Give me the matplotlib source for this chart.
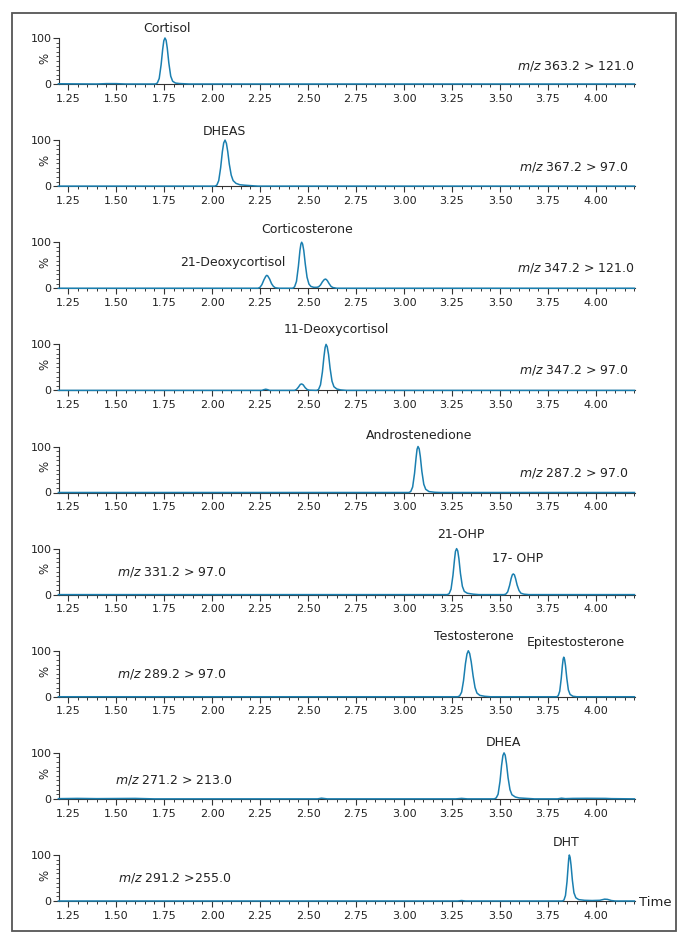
import matplotlib
matplotlib.use("Agg")
import matplotlib.pyplot as plt
from matplotlib.ticker import MultipleLocator, FixedLocator
from matplotlib.patches import Rectangle

# ---------------- data ----------------
transitions = ["363.2 > 121.0", "367.2 > 97.0", "347.2 > 121.0", "347.2 > 97.0",
               "287.2 > 97.0", "331.2 > 97.0", "289.2 > 97.0", "271.2 > 213.0",
               "291.2 >255.0"]

compounds = [["Cortisol"], ["DHEAS"], ["Corticosterone", "21-Deoxycortisol"],
             ["11-Deoxycortisol"], ["Androstenedione"], ["21-OHP", "17- OHP"],
             ["Testosterone", "Epitestosterone"], ["DHEA"], ["DHT"]]

# retention time (min) and relative intensity (%) for each trace
t1 = [1.20, 1.40, 1.45, 1.50, 1.55, 1.705, 1.715, 1.725, 1.735, 1.743, 1.749, 1.755, 1.761,
      1.767, 1.775, 1.785, 1.795, 1.81, 1.83, 1.88, 4.20]
y1 = [0.5, 0, 0.8, 0.8, 0, 0, 2, 12, 42, 75, 94, 100, 95, 78, 46, 17, 6, 2, 1, 0, 0]

t2 = [1.20, 2.015, 2.025, 2.035, 2.045, 2.054, 2.061, 2.068, 2.075, 2.082, 2.090, 2.100,
      2.110, 2.125, 2.145, 2.17, 2.22, 2.24, 4.20]
y2 = [0, 0, 2, 12, 40, 75, 94, 100, 93, 75, 48, 24, 12, 6, 3, 2, 0.5, 0, 0]

t3 = [1.20, 2.24, 2.25, 2.26, 2.27, 2.28, 2.285, 2.29, 2.30, 2.31, 2.32, 2.33, 2.35,
      2.42, 2.43, 2.44, 2.45, 2.458, 2.463, 2.467, 2.472, 2.478, 2.486, 2.495, 2.505,
      2.515, 2.53, 2.545, 2.555, 2.565, 2.575, 2.585, 2.592, 2.60, 2.61, 2.62, 2.63,
      2.65, 4.20]
y3 = [0, 0, 2, 8, 18, 26, 28, 27, 20, 10, 4, 1, 0,
      0, 3, 15, 48, 82, 96, 100, 96, 82, 52, 24, 9,
      4, 2, 2, 3, 7, 14, 19, 20, 17, 10, 4, 1.5,
      0, 0]

t4 = [1.20, 2.26, 2.27, 2.28, 2.29, 2.30, 2.43, 2.44, 2.45, 2.46, 2.467, 2.475, 2.485,
      2.495, 2.505, 2.545, 2.555, 2.565, 2.575, 2.583, 2.589, 2.594, 2.600, 2.607,
      2.615, 2.625, 2.635, 2.65, 2.67, 2.70, 4.20]
y4 = [0, 0, 1.5, 2.5, 1.5, 0, 0, 2, 7, 13, 14, 12, 6,
      2, 0.5, 0, 2, 12, 40, 73, 93, 100, 95, 78,
      48, 20, 8, 3, 1, 0, 0]

t5 = [1.20, 3.025, 3.035, 3.045, 3.055, 3.063, 3.068, 3.073, 3.079, 3.085, 3.093, 3.103,
      3.113, 3.13, 3.16, 3.19, 4.20]
y5 = [0, 0, 2, 12, 42, 76, 94, 100, 95, 78, 46, 18, 7, 2, 0.5, 0, 0]

t6 = [1.20, 3.225, 3.235, 3.245, 3.255, 3.263, 3.268, 3.274, 3.280, 3.286, 3.294, 3.304,
      3.314, 3.33, 3.36, 3.39, 3.52, 3.53, 3.54, 3.55, 3.558, 3.564, 3.569, 3.575,
      3.581, 3.589, 3.599, 3.609, 3.625, 3.65, 4.20]
y6 = [0, 0, 2, 12, 42, 76, 94, 100, 95, 78, 46, 18, 7, 3, 1, 0,
      0, 1, 6, 20, 35, 43, 45, 43, 35, 21, 9, 3, 1, 0, 0]

t7 = [1.20, 3.28, 3.29, 3.30, 3.31, 3.32, 3.328, 3.335, 3.342, 3.35, 3.36, 3.37, 3.38,
      3.395, 3.42, 3.45, 3.795, 3.803, 3.811, 3.819, 3.825, 3.829, 3.832, 3.836, 3.841,
      3.848, 3.856, 3.865, 3.88, 3.90, 4.20]
y7 = [0, 0, 2, 10, 35, 72, 93, 100, 94, 76, 45, 20, 8, 3, 1, 0,
      0, 2, 12, 40, 68, 82, 86, 82, 68, 40, 15, 5, 1, 0, 0]

t8 = [1.20, 1.30, 1.40, 1.60, 1.70, 2.55, 2.57, 2.60, 3.27, 3.30, 3.33, 3.47, 3.48, 3.49,
      3.50, 3.508, 3.515, 3.521, 3.527, 3.534, 3.542, 3.552, 3.562, 3.58, 3.60, 3.64,
      3.68, 3.80, 3.82, 3.84, 3.88, 3.95, 4.05, 4.08, 4.20]
y8 = [0.5, 1, 0.5, 1, 0, 0, 1.5, 0, 0, 1, 0, 0, 2, 10,
      38, 72, 94, 100, 95, 76, 46, 20, 9, 4, 2, 1,
      0, 0, 1.5, 0.5, 1, 1.2, 1, 0.5, 0]

t9 = [1.20, 3.28, 3.30, 3.32, 3.825, 3.833, 3.841, 3.849, 3.855, 3.858, 3.861, 3.865,
      3.870, 3.877, 3.885, 3.895, 3.91, 3.94, 3.98, 4.02, 4.045, 4.06, 4.08, 4.10, 4.20]
y9 = [0, 0, 1, 0, 0, 2, 12, 42, 76, 92, 100, 95, 78, 45, 18, 7, 3, 1.5, 1, 1.5,
      4, 3.5, 1, 0, 0]

traces = [(t1, y1), (t2, y2), (t3, y3), (t4, y4), (t5, y5), (t6, y6), (t7, y7),
          (t8, y8), (t9, y9)]

xtick_values = [1.25, 1.50, 1.75, 2.00, 2.25, 2.50, 2.75, 3.00, 3.25, 3.50, 3.75, 4.00]
xtick_labels = ["1.25", "1.50", "1.75", "2.00", "2.25", "2.50", "2.75", "3.00",
                "3.25", "3.50", "3.75", "4.00"]

# ---------------- layout / style ----------------
W, H = 684, 939
line_color = "#1a7fb0"
text_color = "#222222"
narrow = ["Liberation Sans Narrow", "DejaVu Sans"]

# label positions (x in minutes, y as pixel offset above the baseline)
name_pos = [[(1.766, 56)], [(2.0625, 55)], [(2.497, 59), (2.109, 26)], [(2.646, 61)],
            [(3.078, 57)], [(3.294, 60), (3.591, 36)], [(3.365, 60), (3.896, 54)],
            [(3.516, 56)], [(3.844, 59)]]
mz_pos = [(4.198, 18, "right"), (4.167, 19, "right"), (4.198, 20, "right"),
          (4.167, 20, "right"), (4.167, 20, "right"), (1.505, 23, "left"),
          (1.505, 23, "left"), (1.495, 19, "left"), (1.51, 23, "left")]

fig = plt.figure(figsize=(W / 100, H / 100), dpi=100)
fig.patch.set_facecolor("white")

# outer frame
fig.add_artist(Rectangle((12 / W, 1 - 931 / H), 664 / W, 918 / H,
                         transform=fig.transFigure, fill=False,
                         edgecolor="#555555", linewidth=1.3))

left_px, right_px = 59, 635
axis_h = 46
px2y = 100.0 / axis_h

for i, (tt, yy) in enumerate(traces):
    zero_px = 84 + 102.125 * i
    ax = fig.add_axes([left_px / W, (H - zero_px) / H, (right_px - left_px) / W, axis_h / H])
    ax.plot(tt, yy, color=line_color, lw=1.1, clip_on=False, zorder=3)
    ax.set_xlim(1.2031, 4.2031)
    ax.set_ylim(0, 100)
    ax.patch.set_alpha(0)
    for s in ["top", "right"]:
        ax.spines[s].set_visible(False)
    ax.spines["left"].set_color("#333333")
    ax.spines["bottom"].set_color("#333333")
    ax.spines["left"].set_linewidth(0.8)
    ax.spines["bottom"].set_linewidth(0.8)

    ax.xaxis.set_major_locator(FixedLocator(xtick_values))
    ax.set_xticklabels(xtick_labels, family=narrow, fontsize=8, color=text_color)
    ax.xaxis.set_minor_locator(MultipleLocator(0.05))
    ax.tick_params(axis="x", which="major", direction="out", length=4, width=0.8,
                   color="#333333", pad=3)
    ax.tick_params(axis="x", which="minor", direction="out", length=2.2, width=0.7,
                   color="#333333")

    ax.set_yticks([0, 100])
    ax.set_yticklabels(["0", "100"], fontsize=8, color=text_color)
    ax.yaxis.set_minor_locator(MultipleLocator(10))
    ax.tick_params(axis="y", which="major", direction="out", length=4, width=0.8,
                   color="#333333", pad=1.5)
    ax.tick_params(axis="y", which="minor", direction="out", length=2, width=0.6,
                   color="#333333")

    ax.text(-0.0243, 0.56, "%", transform=ax.transAxes, rotation=90, ha="center",
            va="center", fontsize=8.5, color=text_color)

    for name, (xn, off) in zip(compounds[i], name_pos[i]):
        ax.text(xn, off * px2y, name, ha="center", va="center", fontsize=9,
                color=text_color, clip_on=False)

    xm, offm, ham = mz_pos[i]
    ax.text(xm, offm * px2y, r"$\mathit{m/z}$ " + transitions[i], ha=ham, va="center",
            fontsize=9, color=text_color, clip_on=False)

    if i == len(traces) - 1:
        ax.text(4.222, -1 * px2y, "Time", ha="left", va="center", fontsize=9.5,
                family=narrow, color=text_color, clip_on=False)

fig.savefig("out.png", dpi=100, facecolor="white")
